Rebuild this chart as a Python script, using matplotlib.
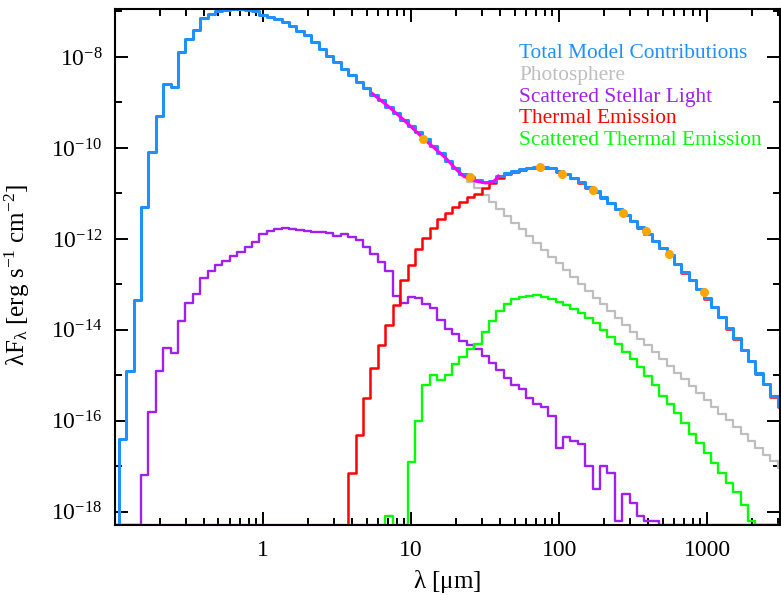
import numpy as np
import matplotlib
matplotlib.use("Agg")
import matplotlib.pyplot as plt
from matplotlib.ticker import FixedLocator, FixedFormatter, LogLocator, NullFormatter

plt.rcParams['font.family'] = ['Liberation Serif', 'DejaVu Serif']
plt.rcParams['mathtext.fontset'] = 'custom'
plt.rcParams['mathtext.rm'] = 'Liberation Serif'
plt.rcParams['mathtext.default'] = 'regular'

# model wavelength grid: log10(lambda / um), bins of 0.05 dex
logwav = np.round(np.arange(-1.0, 3.501, 0.05), 2)

# log10(lambda F_lambda); -20 means below the plot floor
total = [-20, -16.4, -14.9, -13.34, -11.3, -10.1, -9.3, -8.6, -8.65, -7.9,
         -7.6, -7.4, -7.15, -7.05, -7.0, -6.97, -6.95, -6.945, -6.96, -7.0,
         -7.07, -7.12, -7.165, -7.23, -7.32, -7.43, -7.52, -7.67, -7.82, -7.98,
         -8.11, -8.26, -8.40, -8.55, -8.68, -8.84, -8.95, -9.10, -9.23, -9.38,
         -9.52, -9.65, -9.80, -9.96, -10.11, -10.29, -10.44, -10.57, -10.64, -10.70,
         -10.74, -10.72, -10.62, -10.54, -10.50, -10.47, -10.44, -10.42, -10.42, -10.44,
         -10.51, -10.57, -10.66, -10.75, -10.86, -10.95, -11.08, -11.21, -11.34, -11.47,
         -11.60, -11.74, -11.89, -12.04, -12.20, -12.35, -12.55, -12.73, -12.90, -13.10,
         -13.30, -13.49, -13.71, -13.96, -14.18, -14.44, -14.68, -14.95, -15.19, -15.45,
         -15.67]

# these two start part way along the grid and run to its end
photosphere = [-9.52, -9.65, -9.80, -9.96, -10.11, -10.29, -10.44, -10.59, -10.74, -10.89,
               -11.04, -11.19, -11.34, -11.49, -11.64, -11.79, -11.94, -12.09, -12.24, -12.39,
               -12.54, -12.69, -12.84, -12.99, -13.14, -13.29, -13.44, -13.59, -13.74, -13.89,
               -14.04, -14.19, -14.34, -14.49, -14.64, -14.79, -14.94, -15.09, -15.24, -15.39,
               -15.54, -15.69, -15.84, -15.99, -16.14, -16.29, -16.44, -16.59, -16.74, -16.89,
               -17.04]

thermal = [-20, -17.14, -16.31, -15.49, -14.84, -14.33, -13.89, -13.45, -12.90,
           -12.57, -12.22, -11.98, -11.76, -11.56, -11.43, -11.30, -11.19, -11.08, -11.01,
           -10.88, -10.77, -10.66, -10.57, -10.52, -10.49, -10.45, -10.43, -10.43, -10.45,
           -10.52, -10.58, -10.67, -10.76, -10.87, -10.96, -11.09, -11.22, -11.35, -11.48,
           -11.61, -11.75, -11.90, -12.05, -12.21, -12.36, -12.56, -12.74, -12.91, -13.11,
           -13.31, -13.50, -13.72, -13.97, -14.19, -14.45, -14.69, -14.96, -15.20, -15.47,
           -15.70]

scat_star = ([-20] * 4 +
             [-17.2, -15.8, -14.9, -14.4, -14.5, -13.8,
              -13.4, -13.2, -12.85, -12.7, -12.58, -12.48, -12.38, -12.29, -12.17, -12.07,
              -11.9, -11.82, -11.78, -11.77, -11.78, -11.80, -11.83, -11.85, -11.84, -11.87,
              -11.93, -11.9, -11.95, -12.03, -12.18, -12.33, -12.5, -12.7, -13.25, -13.4,
              -13.27, -13.3, -13.43, -13.52, -13.78, -13.98, -14.1, -14.24, -14.33, -14.42,
              -14.58, -14.73, -14.88, -15.05, -15.22, -15.3, -15.5, -15.62, -15.7, -15.9,
              -16.6, -16.35, -16.45, -16.5, -17.0, -17.5, -17.0, -17.15, -18.2, -17.6,
              -17.8, -18.1, -18.2, -18.2] +
             [-20] * 17)

scat_thermal = ([-20] * 37 + [-18.1, -20, -20] +
                [-16.9, -16.0, -15.22, -15.0, -15.1, -15.0, -14.75, -14.6, -14.42, -14.3,
                 -14.05, -13.8, -13.58, -13.42, -13.32, -13.27, -13.25, -13.24, -13.27, -13.32,
                 -13.38, -13.45, -13.53, -13.62, -13.73, -13.85, -14.0, -14.16, -14.32, -14.48,
                 -14.64, -14.82, -15.02, -15.22, -15.45, -15.63, -15.82, -16.05, -16.28, -16.48,
                 -16.70, -16.93, -17.15, -17.36, -17.57, -17.86, -18.2] +
                [-20] * 4)

# IRS-like spectrum (magenta)
spec_wav = [5.5, 7.1, 8.9, 12.2, 14.1, 17.1, 20.0, 22.6, 27.3, 31.9, 35.5, 37.8, 38.9]
spec_logf = [-8.81, -9.10, -9.38, -9.80, -9.98, -10.22, -10.46, -10.62, -10.73, -10.77,
             -10.75, -10.68, -10.62]

# photometry (orange dots)
phot_wav = [12, 25, 74, 104, 170, 270, 385, 550, 950]
phot_logf = [-9.80, -10.64, -10.42, -10.57, -10.92, -11.43, -11.82, -12.33, -13.16]

legend_labels = ['Total Model Contributions', 'Photosphere', 'Scattered Stellar Light',
                 'Thermal Emission', 'Scattered Thermal Emission']
legend_colors = ['#1e90ff', '#bebebe', '#a020f0', '#ff0000', '#00ff00']

ybot, ytop = -18.29, -6.945


def draw(ax, vals, color, lw, z):
    x = 10 ** logwav[-len(vals):]
    y = 10 ** np.clip(np.array(vals), ybot, None)
    ax.plot(x, y, drawstyle='steps-mid', color=color, lw=lw, zorder=z)


fig = plt.figure(figsize=(7.81, 5.95), dpi=100)
ax = fig.add_axes([0.1472, 0.1176, 0.8515, 0.8673])
ax.set_xscale('log')
ax.set_yscale('log')

draw(ax, photosphere, '#bebebe', 1.6, 2)
draw(ax, scat_star, '#a020f0', 1.7, 3)
draw(ax, thermal, '#ff0000', 1.8, 3)
draw(ax, scat_thermal, '#00ff00', 1.7, 3)
draw(ax, total, '#1e90ff', 2.2, 4)
ax.plot(spec_wav, 10 ** np.array(spec_logf), color='#ff00ff', lw=2.2, zorder=5)
ax.plot(phot_wav, 10 ** np.array(phot_logf), 'o', color='#ffa500', ms=6.5, mec='none', zorder=6)

ax.set_xlim(0.1, 3100)
ax.set_ylim(10 ** ybot, 10 ** ytop)

ax.xaxis.set_major_locator(FixedLocator([1, 10, 100, 1000]))
ax.xaxis.set_major_formatter(FixedFormatter(['1', '10', '100', '1000']))
ax.xaxis.set_minor_locator(LogLocator(base=10, subs=np.arange(2, 10)))
ax.xaxis.set_minor_formatter(NullFormatter())

ydec = [-18, -16, -14, -12, -10, -8]
ax.yaxis.set_major_locator(FixedLocator([10.0 ** d for d in ydec]))
ax.yaxis.set_major_formatter(FixedFormatter([r'$10^{%d}$' % d for d in ydec]))
ax.yaxis.set_minor_locator(FixedLocator([10.0 ** d for d in [-17, -15, -13, -11, -9, -7]]))
ax.yaxis.set_minor_formatter(NullFormatter())

ax.tick_params(which='both', direction='in', top=True, right=True, width=1.4)
ax.tick_params(which='major', length=9.5, labelsize=17)
ax.tick_params(axis='x', which='major', pad=11)
ax.tick_params(axis='y', which='major', pad=9)
ax.tick_params(which='minor', length=5)
for s in ax.spines.values():
    s.set_linewidth(1.5)
    s.set_zorder(10)

ax.set_xlabel(r'$\lambda$ [$\mu$m]', fontsize=18)
ax.xaxis.set_label_coords(0.5, -0.083)
ax.set_ylabel(r'$\lambda F_\lambda$ [erg s$^{-1}$ cm$^{-2}$]', fontsize=18)
ax.yaxis.set_label_coords(-0.125, 0.485)

ytxt = [0.9045, 0.8624, 0.8204, 0.7785, 0.7364]
for lab, col, yy in zip(legend_labels, legend_colors, ytxt):
    ax.text(0.6075, yy, lab, color=col, fontsize=15.4, va='baseline', transform=ax.transAxes)

fig.savefig('out.png', dpi=100)
